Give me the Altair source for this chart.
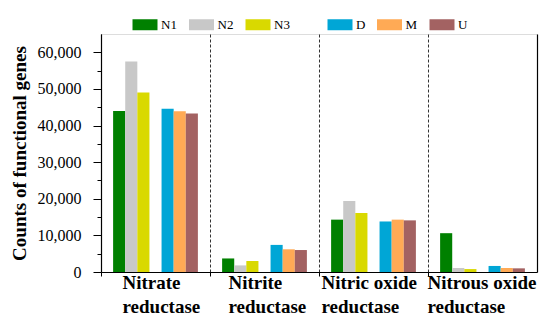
import altair as alt
import pandas as pd

enzymes = ["Nitrate reductase", "Nitrite reductase", "Nitric oxide reductase", "Nitrous oxide reductase"]
groups_a = ["N1", "N2", "N3"]
groups_b = ["D", "M", "U"]
N1 = [44000, 3700, 14300, 10600]
N2 = [57500, 1800, 19400, 1100]
N3 = [49000, 3000, 16100, 800]
D = [44600, 7400, 13800, 1650]
M = [43900, 6200, 14300, 1100]
U = [43300, 6000, 14100, 1000]
colors_a = ["#008000", "#c8c8c8", "#d9d900"]
colors_b = ["#00a6d6", "#ffaa55", "#a36262"]
y_ticks = list(range(0, 65000, 5000))

series = {"N1": N1, "N2": N2, "N3": N3, "D": D, "M": M, "U": U}
rows = []
for g, vals in series.items():
    for e, v in zip(enzymes, vals):
        rows.append({"enzyme": e, "group": g, "count": v})
df = pd.DataFrame(rows)

FONT = "Liberation Serif"
slot_domain = ["N1", "N2", "N3", "gap", "D", "M", "U"]

x_enc = alt.X(
    "enzyme:N",
    sort=enzymes,
    scale=alt.Scale(paddingInner=0, paddingOuter=0),
    axis=alt.Axis(
        title=None,
        bandPosition=0,
        grid=True,
        gridDash=[3, 2],
        gridColor="#333333",
        gridWidth=1,
        domainColor="black",
        domainWidth=1.2,
        tickColor="black",
        tickSize=4,
        labelAngle=0,
        labelAlign="left",
        labelBaseline="top",
        labelFont=FONT,
        labelFontSize=19,
        labelFontWeight="bold",
        labelColor="black",
        labelLineHeight=24,
        labelPadding=-3,
        labelLimit=300,
        labelExpr="[slice(datum.label, 0, lastindexof(datum.label, ' ')), slice(datum.label, lastindexof(datum.label, ' ') + 1)]",
        labelOffset={
            "condition": [
                {"test": "datum.value === 'Nitrate reductase'", "value": -33},
                {"test": "datum.value === 'Nitrite reductase'", "value": -36},
                {"test": "datum.value === 'Nitric oxide reductase'", "value": -52},
            ],
            "value": -55,
        },
    ),
)

y_scale = alt.Scale(domain=[0, 65000], nice=False)

y_left = alt.Y(
    "count:Q",
    scale=y_scale,
    axis=alt.Axis(
        title="Counts of functional genes",
        titleFont=FONT,
        titleFontSize=19,
        titleFontWeight="bold",
        titleColor="black",
        titlePadding=8,
        values=y_ticks,
        labelExpr="datum.value % 10000 === 0 ? format(datum.value, ',d') : ''",
        labelFont=FONT,
        labelFontSize=16,
        labelFontWeight="normal",
        labelColor="black",
        labelPadding=12,
        tickColor="black",
        tickSize={"condition": {"test": "datum.value % 10000 === 0", "value": 8}, "value": 4},
        domainColor="black",
        domainWidth=1.2,
        grid=False,
    ),
)

y_right = alt.Y(
    "count:Q",
    scale=y_scale,
    axis=alt.Axis(
        orient="right",
        title=None,
        labels=False,
        ticks=False,
        grid=False,
        domainColor="black",
        domainWidth=1.2,
    ),
)

xoff = alt.XOffset("group:N", scale=alt.Scale(domain=slot_domain, paddingInner=0, paddingOuter={"expr": "1.16"}))

def legend(x):
    return alt.Legend(
        title=None,
        orient="none",
        legendX=x,
        legendY=-22,
        direction="horizontal",
        columns=3,
        symbolType="M-1,-0.44H1V0.44H-1Z",
        symbolSize=625,
        symbolStrokeWidth=0,
        labelFont=FONT,
        labelFontSize=13,
        labelFontWeight="normal",
        labelColor="black",
        labelOffset=3.5,
        columnPadding=11.5,
        padding=0,
    )

layer_a = alt.Chart(df).transform_filter(
    alt.FieldOneOfPredicate(field="group", oneOf=groups_a)
).mark_bar().encode(
    x=x_enc,
    y=y_left,
    xOffset=xoff,
    color=alt.Color("group:N", scale=alt.Scale(domain=groups_a, range=colors_a), legend=legend(31.5)),
)

layer_b = alt.Chart(df).transform_filter(
    alt.FieldOneOfPredicate(field="group", oneOf=groups_b)
).mark_bar().encode(
    x=x_enc,
    y=y_right,
    xOffset=xoff,
    color=alt.Color("group:N", scale=alt.Scale(domain=groups_b, range=colors_b), legend=legend(226.5)),
)

chart = alt.layer(layer_a, layer_b).resolve_scale(color="independent").resolve_legend(
    color="independent"
).resolve_axis(y="independent").properties(
    width=436,
    height=238,
    autosize=alt.AutoSizeParams(type="none"),
    padding={"left": 93, "top": 26, "right": 5, "bottom": 44},
).configure_view(stroke="black", strokeWidth=1.2).configure(
    background="white", font=FONT
).configure_axis(labelFont=FONT, titleFont=FONT).configure_legend(labelFont=FONT)

chart.save("out.html", embed_options={"renderer": "svg", "actions": False})
